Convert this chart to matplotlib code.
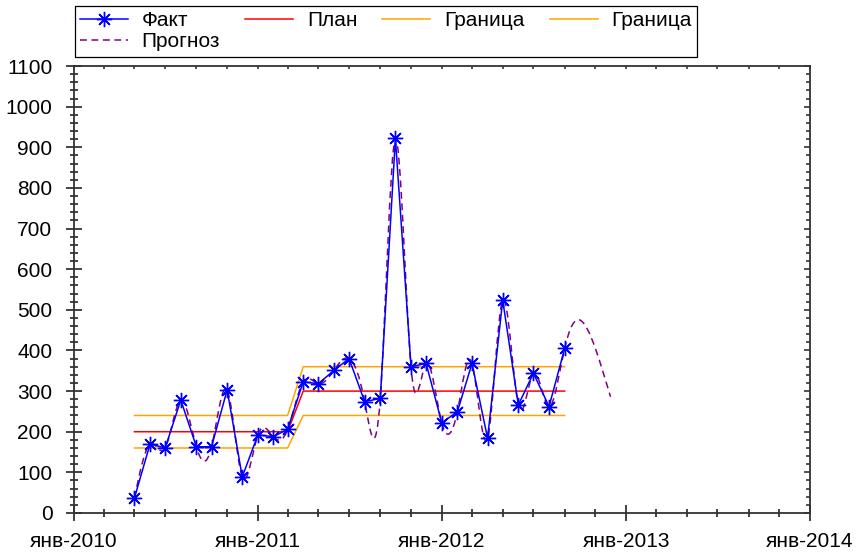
'''Fact vs plan chart with control borders and a smoothed forecast'''

import numpy as np
import pandas as pd
import matplotlib
matplotlib.use('Agg')
import matplotlib.pyplot as plt
import matplotlib.dates as mdates
from matplotlib.ticker import MultipleLocator
from matplotlib.path import Path
from matplotlib.patches import PathPatch

plt.rcParams['font.family'] = ['Liberation Sans', 'DejaVu Sans']

# monthly data, May 2010 .. Sep 2012
months = pd.date_range('2010-05-01', '2012-09-01', freq='MS')
fact = [37, 170, 160, 278, 163, 163, 303, 89, 192, 188, 206,
        323, 318, 351, 380, 274, 282, 922, 360, 368, 222, 249,
        368, 184, 524, 266, 344, 262, 405]
plan = [200, 200, 200, 200, 200, 200, 200, 200, 200, 200, 200,
        300, 300, 300, 300, 300, 300, 300, 300, 300, 300, 300,
        300, 300, 300, 300, 300, 300, 300]
upper = [240, 240, 240, 240, 240, 240, 240, 240, 240, 240, 240,
         360, 360, 360, 360, 360, 360, 360, 360, 360, 360, 360,
         360, 360, 360, 360, 360, 360, 360]
lower = [160, 160, 160, 160, 160, 160, 160, 160, 160, 160, 160,
         240, 240, 240, 240, 240, 240, 240, 240, 240, 240, 240,
         240, 240, 240, 240, 240, 240, 240]

# forecast runs three months further, May 2010 .. Dec 2012
forecast_months = pd.date_range('2010-05-01', '2012-12-01', freq='MS')
forecast = [37, 170, 160, 278, 163, 163, 303, 89, 192, 188, 206,
            323, 318, 351, 380, 274, 282, 922, 360, 368, 222, 249,
            368, 184, 524, 266, 344, 262, 405, 475, 405, 286]


def smooth_path(x, y):
    '''Bezier path through the points (natural spline tangents)'''
    x = np.asarray(x, float)
    y = np.asarray(y, float)
    n = len(y)
    A = np.zeros((n, n))
    b = np.zeros(n)
    A[0, 0], A[0, 1] = 2, 1
    b[0] = 3 * (y[1] - y[0])
    for i in range(1, n - 1):
        A[i, i - 1], A[i, i], A[i, i + 1] = 1, 4, 1
        b[i] = 3 * (y[i + 1] - y[i - 1])
    A[-1, -2], A[-1, -1] = 1, 2
    b[-1] = 3 * (y[-1] - y[-2])
    m = np.linalg.solve(A, b)

    verts = [(x[0], y[0])]
    codes = [Path.MOVETO]
    for i in range(n - 1):
        dx = x[i + 1] - x[i]
        verts += [(x[i] + dx / 3, y[i] + m[i] / 3),
                  (x[i + 1] - dx / 3, y[i + 1] - m[i + 1] / 3),
                  (x[i + 1], y[i + 1])]
        codes += [Path.CURVE4] * 3
    return Path(verts, codes)


W, H = 860, 555
fig = plt.figure(figsize=(W / 100, H / 100), dpi=100)
pos = [74 / W, 1 - 513 / H, 736 / W, 447 / H]
ax = fig.add_axes(pos)

xd = mdates.date2num(months)
xf = mdates.date2num(forecast_months)

lw = 1.1
l_up, = ax.plot(xd, upper, color='#ffa500', lw=lw, label='Граница', zorder=2)
l_lo, = ax.plot(xd, lower, color='#ffa500', lw=lw, label='Граница', zorder=2)
l_plan, = ax.plot(xd, plan, color='#ff0000', lw=lw, label='План', zorder=2)

fc_style = dict(color='#800080', lw=lw, linestyle=(0, (4.5, 3)))
ax.add_patch(PathPatch(smooth_path(xf, forecast), fill=False, zorder=3,
                       edgecolor=fc_style['color'], lw=lw,
                       linestyle=fc_style['linestyle']))
l_fc, = ax.plot([], [], label='Прогноз', **fc_style)

l_fact, = ax.plot(xd, fact, color='#0000ff', lw=lw, marker=(8, 2, 0),
                  markersize=11, markeredgewidth=1.0, label='Факт', zorder=4)

ax.set_xlim(mdates.date2num(pd.Timestamp('2010-01-01')),
            mdates.date2num(pd.Timestamp('2014-01-01')))
ax.set_ylim(0, 1100)

ax.xaxis.set_major_locator(mdates.YearLocator())
ax.xaxis.set_minor_locator(mdates.MonthLocator(bymonth=[3, 5, 7, 9, 11]))
ax.xaxis.set_major_formatter(mdates.DateFormatter('янв-%Y'))
ax.yaxis.set_major_locator(MultipleLocator(100))
ax.yaxis.set_minor_locator(MultipleLocator(20))

for s in ax.spines.values():
    s.set_color('#333333')
    s.set_linewidth(1.3)

ax.tick_params(which='both', direction='inout', top=False, right=False,
               colors='#222222', labelcolor='black', width=1.2)
ax.tick_params(which='major', length=11, labelsize=15)
ax.tick_params(axis='y', which='major', pad=10)
ax.tick_params(axis='x', which='major', pad=8)
ax.tick_params(which='minor', length=6)

# inward ticks on the top and right sides
ax2 = fig.add_axes(pos, frameon=False)
ax2.patch.set_visible(False)
ax2.set_xlim(ax.get_xlim())
ax2.set_ylim(ax.get_ylim())
ax2.xaxis.tick_top()
ax2.yaxis.tick_right()
ax2.xaxis.set_major_locator(mdates.YearLocator())
ax2.xaxis.set_minor_locator(mdates.MonthLocator(bymonth=[3, 5, 7, 9, 11]))
ax2.yaxis.set_major_locator(MultipleLocator(100))
ax2.yaxis.set_minor_locator(MultipleLocator(20))
ax2.tick_params(which='both', direction='in', labeltop=False, labelright=False,
                colors='#333333', width=1.2)
ax2.tick_params(axis='y', which='major', length=4.5)
ax2.tick_params(axis='y', which='minor', length=3)
ax2.tick_params(axis='x', which='both', length=2.5)

handles = [l_fact, l_fc, l_plan, l_up, l_lo]
leg = fig.legend(handles, [h.get_label() for h in handles], ncol=4,
                 loc='upper left', bbox_to_anchor=(74.6 / W, 1 - 6 / H),
                 frameon=True, fancybox=False, edgecolor='black',
                 framealpha=1, fontsize=15, handlelength=2.3,
                 handletextpad=0.67, columnspacing=1.2, borderpad=0.25,
                 labelspacing=0.1, borderaxespad=0)
leg.get_frame().set_linewidth(0.9)

fig.savefig('out.png', dpi=100)
